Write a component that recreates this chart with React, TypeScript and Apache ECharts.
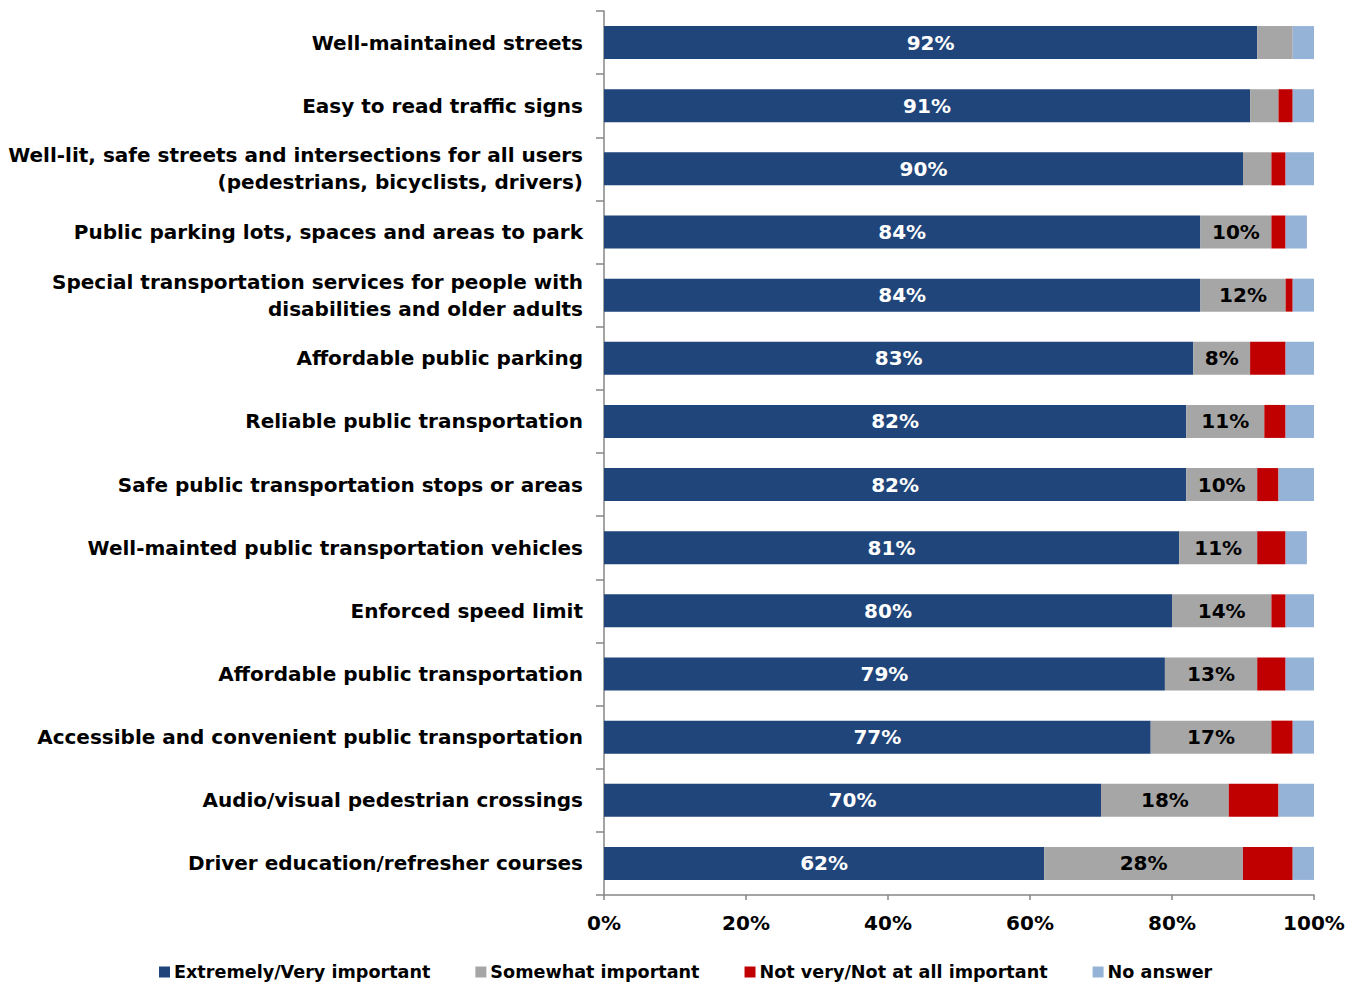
import React, { useEffect, useRef } from "react";
import * as echarts from "echarts";

const categories = [
  "Well-maintained streets",
  "Easy to read traffic signs",
  "Well-lit, safe streets and intersections for all users\n(pedestrians, bicyclists, drivers)",
  "Public parking lots, spaces and areas to park",
  "Special transportation services for people with\ndisabilities and older adults",
  "Affordable public parking",
  "Reliable public transportation",
  "Safe public transportation stops or areas",
  "Well-mainted public transportation vehicles",
  "Enforced speed limit",
  "Affordable public transportation",
  "Accessible and convenient public transportation",
  "Audio/visual pedestrian crossings",
  "Driver education/refresher courses",
];

const seriesNames = [
  "Extremely/Very important",
  "Somewhat important",
  "Not very/Not at all important",
  "No answer",
];

const extremelyVery = [92, 91, 90, 84, 84, 83, 82, 82, 81, 80, 79, 77, 70, 62];
const somewhat = [5, 4, 4, 10, 12, 8, 11, 10, 11, 14, 13, 17, 18, 28];
const notImportant = [0, 2, 2, 2, 1, 5, 3, 3, 4, 2, 4, 3, 7, 7];
const noAnswer = [3, 3, 4, 3, 3, 4, 4, 5, 3, 4, 4, 3, 5, 3];

const xTicks = { min: 0, max: 100, interval: 20 };

const colors = ["#1F457A", "#A6A6A6", "#C00000", "#95B3D7"];

export default function App() {
  const ref = useRef<HTMLDivElement>(null);
  useEffect(() => {
    if (!ref.current) return;
    const chart = echarts.init(ref.current, undefined, { renderer: "svg" });
    const font = "'DejaVu Sans', sans-serif";
    const datasets = [extremelyVery, somewhat, notImportant, noAnswer];
    chart.setOption({
      animation: false,
      textStyle: { fontFamily: font },
      grid: { left: 604, right: 45, top: 11, bottom: 89, containLabel: false },
      legend: {
        left: 159,
        top: 963,
        padding: 0,
        itemWidth: 11,
        itemHeight: 11,
        itemGap: 45,
        icon: "rect",
        textStyle: { fontFamily: font, fontWeight: "bold", fontSize: 17.6, color: "#000", padding: [0, 0, 0, -1] },
        data: seriesNames,
      },
      xAxis: {
        type: "value",
        min: xTicks.min,
        max: xTicks.max,
        interval: xTicks.interval,
        splitLine: { show: false },
        axisLine: { show: true, lineStyle: { color: "#868686", width: 1.5 } },
        axisTick: { show: true, length: 5, lineStyle: { color: "#868686", width: 1.5 } },
        axisLabel: {
          formatter: "{value}%",
          fontFamily: font,
          fontWeight: "bold",
          fontSize: 20,
          color: "#000",
          margin: 18,
        },
      },
      yAxis: {
        type: "category",
        inverse: true,
        data: categories,
        axisLine: { show: true, lineStyle: { color: "#868686", width: 1.5 } },
        axisTick: { show: true, length: 8, lineStyle: { color: "#868686", width: 1.5 } },
        axisLabel: {
          fontFamily: font,
          fontWeight: "bold",
          fontSize: 20,
          color: "#000",
          margin: 21,
          lineHeight: 27,
          align: "right",
        },
      },
      series: datasets.map((d, i) => ({
        name: seriesNames[i],
        type: "bar",
        stack: "total",
        data: d,
        barWidth: 33,
        itemStyle: { color: colors[i] },
        label: {
          show: i < 2,
          position: "inside",
          fontFamily: font,
          fontWeight: "bold",
          fontSize: 20,
          color: i === 0 ? "#fff" : "#000",
          textBorderWidth: 0,
          formatter: (p: any) => (i === 1 && p.value < 8 ? "" : p.value + "%"),
        },
      })),
    });
    return () => chart.dispose();
  }, []);
  return <div ref={ref} style={{ width: 1359, height: 984, position: "absolute", left: 0, top: 0 }} />;
}
